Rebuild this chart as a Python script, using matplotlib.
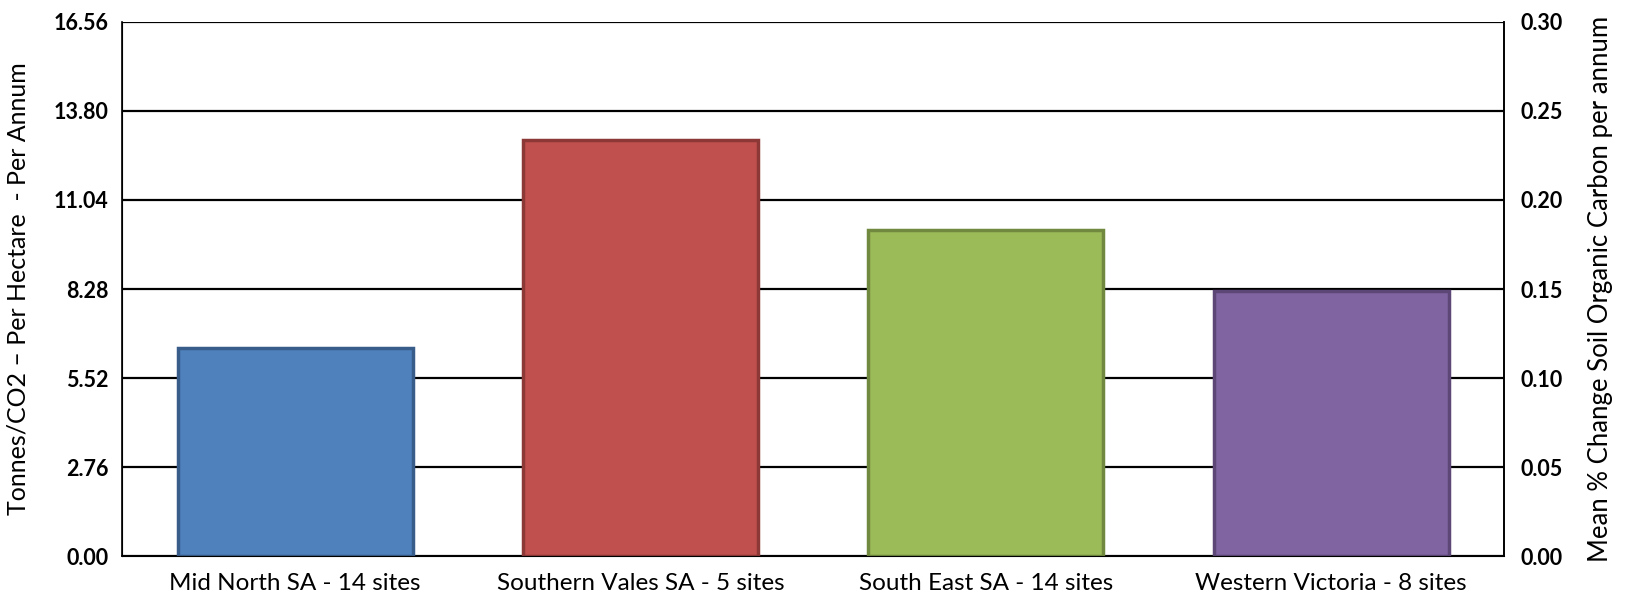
import matplotlib
matplotlib.use("Agg")
import matplotlib.pyplot as plt
import numpy as np

categories = ["Mid North SA - 14 sites", "Southern Vales SA - 5 sites",
              "South East SA - 14 sites", "Western Victoria - 8 sites"]
values = [6.44, 12.89, 10.12, 8.22]
left_ticks = [0.00, 2.76, 5.52, 8.28, 11.04, 13.80, 16.56]
right_ticks = [0.00, 0.05, 0.10, 0.15, 0.20, 0.25, 0.30]
bar_colors = ["#4F81BD", "#C0504D", "#9BBB59", "#8064A2"]
edge_colors = ["#385D8A", "#8C3836", "#71893F", "#5C4776"]

plt.rcParams['font.family'] = ['Lato', 'DejaVu Sans']

fig = plt.figure(figsize=(16.28, 5.96), dpi=100)
ax = fig.add_axes([0.0752, 0.0663, 0.8486, 0.8976])

x = np.arange(len(categories))
ax.bar(x, values, width=0.68, color=bar_colors, edgecolor=edge_colors,
       linewidth=2.5, zorder=3)
ax.set_xlim(-0.5, len(categories) - 0.5)
ax.set_ylim(0, 16.56)
ax.set_yticks(left_ticks)
ax.set_yticklabels([f"{t:.2f}" for t in left_ticks], fontsize=15.5, fontweight='bold')
ax.set_xticks(x)
ax.set_xticklabels(categories, fontsize=17.5)
ax.tick_params(axis='y', length=0, pad=10)
ax.tick_params(axis='x', length=0, pad=12)
ax.yaxis.grid(True, color='black', linewidth=1.6, zorder=1)
ax.set_axisbelow(True)
for s in ['left', 'right', 'bottom']:
    ax.spines[s].set_linewidth(1.2)
ax.spines['top'].set_visible(False)
ax.set_ylabel("Tonnes/CO2 \u2013 Per Hectare  - Per Annum", fontsize=18, labelpad=17)

ax2 = ax.twinx()
ax2.set_ylim(0, 0.30)
ax2.set_yticks(right_ticks)
ax2.set_yticklabels([f"{t:.2f}" for t in right_ticks], fontsize=15.5, fontweight='bold')
ax2.tick_params(axis='y', length=0, pad=12)
ax2.spines['top'].set_visible(False)
ax2.spines['right'].set_linewidth(1.2)
ax2.set_ylabel("Mean % Change Soil Organic Carbon per annum", fontsize=18.5, labelpad=18)

fig.savefig("out.png", dpi=100)
